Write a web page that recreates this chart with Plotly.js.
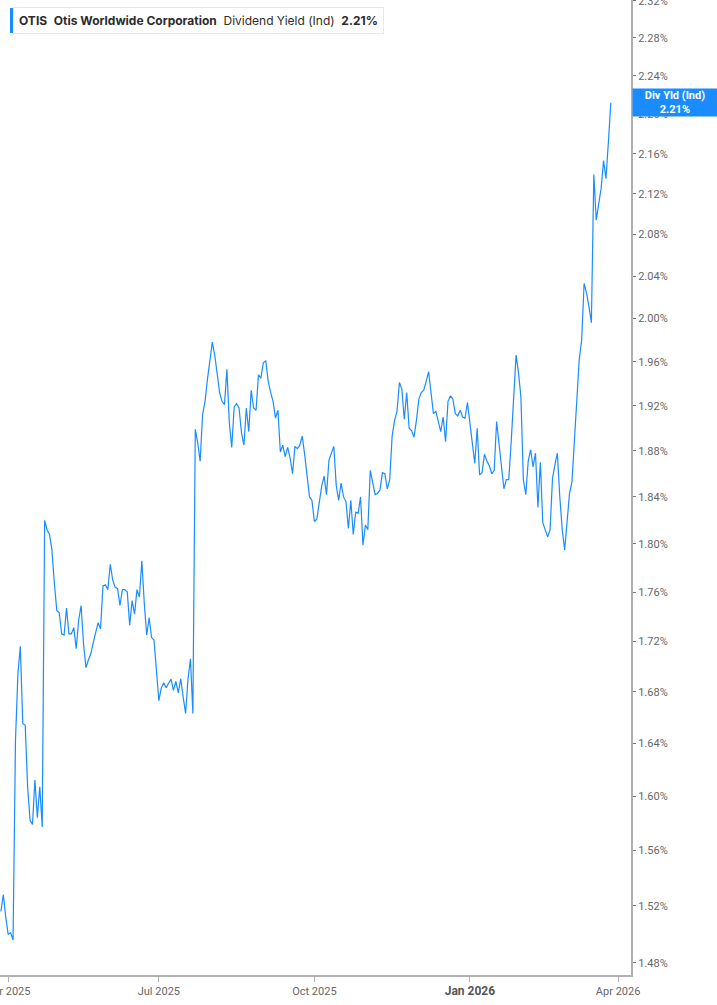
<!DOCTYPE html>
<html>
<head>
<meta charset="utf-8">
<script src="https://cdn.plot.ly/plotly-3.0.1.min.js"></script>
<style>
  html, body { margin: 0; padding: 0; background: #fff; }
  #chart { width: 717px; height: 1005px; }
</style>
</head>
<body>
<div id="chart"></div>
<script>
// OTIS dividend yield (ind), one value per trading day from 2025-03-27
const firstDay = '2025-03-27';
const lastCalendarDay = '2026-04-10';
const holidays = ['2025-04-18', '2025-05-26', '2025-06-19', '2025-07-04', '2025-09-01',
  '2025-11-27', '2025-12-25', '2026-01-01', '2026-01-19', '2026-02-16', '2026-04-03'];

const divYield = [
  1.516, 1.528, 1.512, 1.500, 1.501, 1.496, 1.642, 1.694, 1.716, 1.655,
  1.654, 1.607, 1.582, 1.579, 1.612, 1.584, 1.607, 1.577, 1.820, 1.812,
  1.808, 1.795, 1.767, 1.745, 1.743, 1.726, 1.725, 1.747, 1.726, 1.726,
  1.731, 1.714, 1.737, 1.749, 1.718, 1.699, 1.705, 1.710, 1.719, 1.728,
  1.735, 1.730, 1.765, 1.766, 1.762, 1.783, 1.770, 1.764, 1.763, 1.749,
  1.762, 1.762, 1.760, 1.733, 1.753, 1.742, 1.762, 1.756, 1.786, 1.751,
  1.725, 1.739, 1.723, 1.721, 1.697, 1.673, 1.683, 1.687, 1.683, 1.686,
  1.690, 1.681, 1.688, 1.679, 1.690, 1.676, 1.663, 1.690, 1.706, 1.663,
  1.899, 1.887, 1.871, 1.912, 1.924, 1.944, 1.962, 1.978, 1.966, 1.947,
  1.932, 1.924, 1.921, 1.953, 1.905, 1.883, 1.919, 1.922, 1.918, 1.896,
  1.885, 1.918, 1.897, 1.934, 1.918, 1.916, 1.948, 1.945, 1.959, 1.961,
  1.942, 1.932, 1.924, 1.909, 1.916, 1.879, 1.885, 1.875, 1.883, 1.874,
  1.860, 1.884, 1.882, 1.885, 1.893, 1.877, 1.858, 1.840, 1.837, 1.819,
  1.821, 1.835, 1.849, 1.858, 1.842, 1.872, 1.878, 1.884, 1.850, 1.837,
  1.852, 1.840, 1.836, 1.813, 1.837, 1.808, 1.827, 1.826, 1.840, 1.799,
  1.816, 1.812, 1.863, 1.853, 1.842, 1.843, 1.846, 1.861, 1.860, 1.847,
  1.855, 1.893, 1.907, 1.915, 1.941, 1.935, 1.908, 1.932, 1.900, 1.898,
  1.892, 1.907, 1.926, 1.932, 1.934, 1.942, 1.951, 1.932, 1.913, 1.915,
  1.906, 1.897, 1.910, 1.888, 1.924, 1.929, 1.926, 1.913, 1.911, 1.916,
  1.910, 1.909, 1.923, 1.903, 1.885, 1.869, 1.900, 1.859, 1.861, 1.877,
  1.871, 1.867, 1.860, 1.863, 1.906, 1.884, 1.865, 1.847, 1.855, 1.855,
  1.888, 1.928, 1.966, 1.950, 1.928, 1.855, 1.842, 1.871, 1.881, 1.866,
  1.878, 1.831, 1.870, 1.818, 1.812, 1.806, 1.812, 1.856, 1.868, 1.878,
  1.840, 1.812, 1.795, 1.823, 1.843, 1.853, 1.884, 1.925, 1.962, 1.980,
  2.033, 2.024, 2.011, 1.996, 2.139, 2.094, 2.110, 2.125, 2.153, 2.135,
  2.172, 2.212
];

const xTickDates = ['2025-04-01', '2025-07-01', '2025-10-01', '2026-01-01', '2026-04-01'];
const xTickLabels = ['Apr 2025', 'Jul 2025', 'Oct 2025',
  '<span style="font-size:12px;color:#555"><b>Jan 2026</b></span>', 'Apr 2026'];
const yTicks = [1.48, 1.52, 1.56, 1.60, 1.64, 1.68, 1.72, 1.76, 1.80, 1.84, 1.88,
  1.92, 1.96, 2.00, 2.04, 2.08, 2.12, 2.16, 2.20, 2.24, 2.28, 2.32];

// trading calendar (weekdays minus market holidays)
function tradingDays(start, end) {
  const days = [];
  const d = new Date(start + 'T00:00:00Z');
  const stop = new Date(end + 'T00:00:00Z');
  while (d <= stop) {
    const iso = d.toISOString().slice(0, 10);
    const wd = d.getUTCDay();
    if (wd !== 0 && wd !== 6 && !holidays.includes(iso)) days.push(iso);
    d.setUTCDate(d.getUTCDate() + 1);
  }
  return days;
}

const calendar = tradingDays(firstDay, lastCalendarDay);
const dates = calendar.slice(0, divYield.length);
const xIndex = dates.map((_, i) => i);
const tickIndex = xTickDates.map(t => calendar.findIndex(d => d >= t));

const lineColor = '#1a8cff';
const plotW = 631, plotH = 975;
const px = x => x / plotW;
const py = y => 1 - y / plotH;

const trace = {
  x: xIndex,
  y: divYield,
  customdata: dates,
  type: 'scatter',
  mode: 'lines',
  line: { color: lineColor, width: 1.2 },
  hovertemplate: '%{customdata}: %{y:.2f}%<extra></extra>'
};

const last = divYield[divYield.length - 1];
const gap = '\u00a0\u00a0';

const layout = {
  width: 717,
  height: 1005,
  margin: { l: 0, r: 717 - plotW, t: 0, b: 1005 - plotH },
  paper_bgcolor: '#ffffff',
  plot_bgcolor: '#ffffff',
  showlegend: false,
  font: { family: 'Roboto, "Open Sans", sans-serif', color: '#666' },
  xaxis: {
    type: 'linear',
    range: [-0.37, 259.3],
    tickvals: tickIndex,
    ticktext: xTickLabels,
    tickfont: { size: 11, color: '#666' },
    ticklabeloverflow: 'allow',
    ticks: 'outside',
    ticklen: 5,
    tickcolor: '#b0b0b0',
    showline: true,
    linecolor: '#b0b0b0',
    linewidth: 1.5,
    showgrid: false,
    zeroline: false,
    fixedrange: true
  },
  yaxis: {
    type: 'log',
    side: 'right',
    range: [Math.log10(1.4717), Math.log10(2.3208)],
    tickvals: yTicks,
    ticktext: yTicks.map(v => v.toFixed(2) + '%'),
    tickfont: { size: 11, color: '#666' },
    ticklabeloverflow: 'allow',
    ticks: 'outside',
    ticklen: 3,
    tickcolor: '#777',
    showline: true,
    linecolor: '#b0b0b0',
    linewidth: 2,
    showgrid: false,
    zeroline: false,
    fixedrange: true
  },
  annotations: [
    {
      xref: 'paper', yref: 'paper',
      x: px(13), y: py(7), xanchor: 'left', yanchor: 'top',
      text: '<b>OTIS</b>' + gap + '<b>Otis Worldwide Corporation</b>' + gap + 'Dividend Yield (Ind)' + gap + '<b>' + last.toFixed(2) + '%</b>',
      showarrow: false,
      align: 'left',
      font: { family: 'Inter, Roboto, sans-serif', size: 12, color: '#2b2b2b' },
      bgcolor: '#ffffff',
      bordercolor: '#e8e8e8',
      borderwidth: 1,
      borderpad: 5
    },
    {
      xref: 'paper', yref: 'y',
      x: 1, y: Math.log10(last), xanchor: 'left', yanchor: 'middle',
      xshift: 1,
      text: '<b>Div Yld (Ind)<br>' + last.toFixed(2) + '%</b>',
      showarrow: false,
      align: 'center',
      width: 84,
      font: { family: 'Roboto, sans-serif', size: 11, color: '#ffffff' },
      bgcolor: lineColor,
      borderpad: 0
    }
  ]
};

Plotly.newPlot('chart', [trace], layout, { displayModeBar: false, staticPlot: true }).then(() => {
  // blue accent bar on the legend box, drawn above the annotation
  Plotly.relayout('chart', {
    shapes: [{
      type: 'rect', xref: 'paper', yref: 'paper', layer: 'above',
      x0: px(10), x1: px(13), y0: py(33), y1: py(8),
      fillcolor: lineColor, line: { width: 0 }
    }]
  });
});
</script>
</body>
</html>
